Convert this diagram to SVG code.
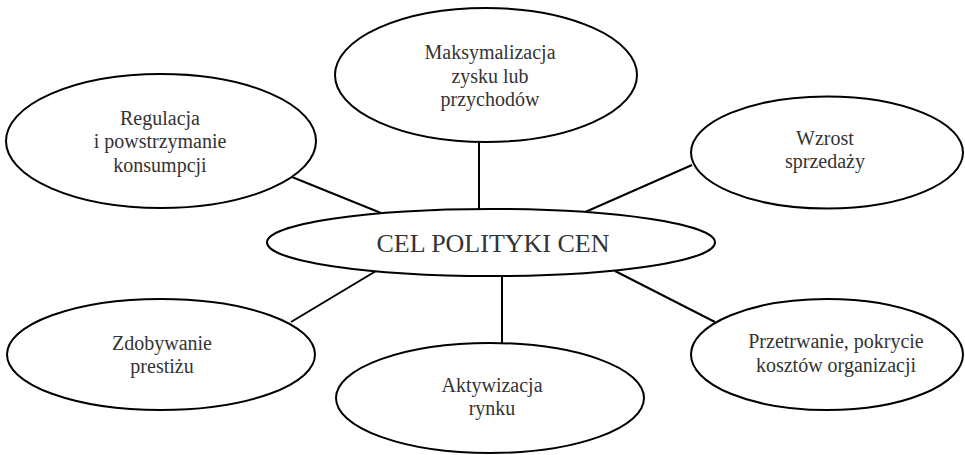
<svg xmlns="http://www.w3.org/2000/svg" width="965" height="455" viewBox="0 0 965 455">
<style>
.n{fill:#fff;stroke:#000;stroke-width:2}
.c{stroke:#000;stroke-width:2;fill:none}
text{font-family:"Liberation Serif","Times New Roman",serif;font-size:20px;fill:#333;text-anchor:middle}
.big{font-size:26px}
</style>
<rect width="965" height="455" fill="#fff"/>
<g id="connectors">
<line class="c" x1="292" y1="177" x2="381" y2="213"/>
<line class="c" x1="479" y1="142" x2="479" y2="210"/>
<line class="c" x1="583" y1="213" x2="692" y2="165"/>
<line class="c" x1="376" y1="271" x2="291" y2="322"/>
<line class="c" x1="502" y1="276" x2="502" y2="343"/>
<line class="c" x1="615" y1="271" x2="715" y2="322"/>
</g>
<g id="center">
<ellipse class="n" cx="491" cy="242.5" rx="224" ry="33.5"/>
<text class="big" x="493" y="252">CEL POLITYKI CEN</text>
</g>
<g id="maks">
<ellipse class="n" cx="486" cy="75" rx="151" ry="67"/>
<text x="490" y="59">Maksymalizacja</text>
<text x="490" y="83">zysku lub</text>
<text x="490" y="106">przychodów</text>
</g>
<g id="regulacja">
<ellipse class="n" cx="161" cy="141" rx="155" ry="67"/>
<text x="160" y="125">Regulacja</text>
<text x="160" y="148">i powstrzymanie</text>
<text x="160" y="172">konsumpcji</text>
</g>
<g id="wzrost">
<ellipse class="n" cx="827" cy="152.5" rx="136" ry="56"/>
<text x="825" y="145">Wzrost</text>
<text x="825" y="168">sprzedaży</text>
</g>
<g id="zdobywanie">
<ellipse class="n" cx="161" cy="354.5" rx="154" ry="55.5"/>
<text x="162" y="350">Zdobywanie</text>
<text x="162" y="373">prestiżu</text>
</g>
<g id="aktywizacja">
<ellipse class="n" cx="490" cy="398" rx="154" ry="55"/>
<text x="492" y="392">Aktywizacja</text>
<text x="492" y="415">rynku</text>
</g>
<g id="przetrwanie">
<ellipse class="n" cx="827" cy="354.5" rx="136" ry="55.5"/>
<text x="836" y="348">Przetrwanie, pokrycie</text>
<text x="836" y="372">kosztów organizacji</text>
</g>
</svg>
